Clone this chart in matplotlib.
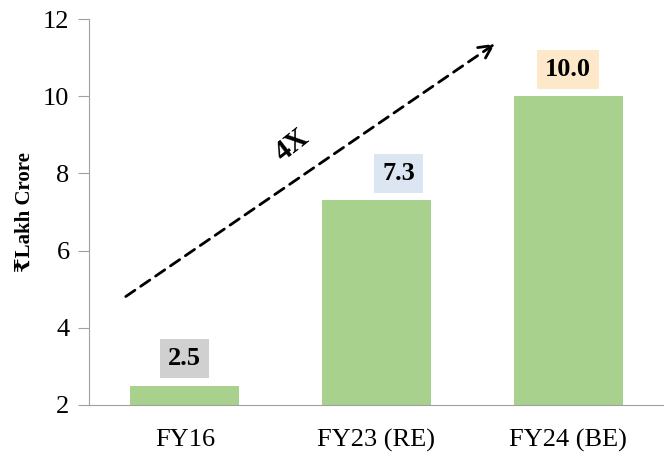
import matplotlib.pyplot as plt

categories = ["FY16", "FY23 (RE)", "FY24 (BE)"]
values = [2.5, 7.3, 10.0]
label_colors = ["#d0d0d0", "#dce6f2", "#fde9c9"]
label_dx = [0, 16, 0]  # label nudges in points

plt.rcParams['font.family'] = ['Liberation Serif', 'DejaVu Serif']

fig = plt.figure(figsize=(6.64, 4.54), dpi=100)
ax = fig.add_axes([0.134, 0.108, 0.866, 0.85])

base = 2
x = range(len(categories))
ax.bar(x, [v - base for v in values], bottom=base, width=0.57, color="#a9d18e")

for i, v in enumerate(values):
    ax.annotate(f"{v:.1f}", (i, v), xytext=(label_dx[i], 11), textcoords="offset points",
                ha="center", va="bottom", fontsize=19, fontweight="bold",
                bbox=dict(boxstyle="square,pad=0.3", fc=label_colors[i], ec="none"))

# growth arrow
ax.annotate("", xy=(1.63, 11.4), xytext=(-0.32, 4.77),
            arrowprops=dict(arrowstyle="->", color="black", lw=2, linestyle=(0, (4, 2.5)),
                            mutation_scale=24))
ax.text(0.56, 8.74, "4X", rotation=38, ha="center", va="center",
        fontsize=21, fontweight="bold")

ax.set_ylim(2, 12)
ax.set_xlim(-0.5, 2.5)
ax.set_yticks([2, 4, 6, 8, 10, 12])
ax.set_xticks(list(x))
ax.set_xticklabels(categories)
ax.tick_params(axis="y", labelsize=19, color="#a0a0a0", length=8, pad=6)
ax.tick_params(axis="x", labelsize=19, length=0, pad=17)
ax.set_ylabel("₹Lakh Crore", fontsize=15, fontweight="bold", labelpad=6)

for s in ["top", "right"]:
    ax.spines[s].set_visible(False)
for s in ["left", "bottom"]:
    ax.spines[s].set_color("#a0a0a0")

fig.savefig("out.png", dpi=100)
